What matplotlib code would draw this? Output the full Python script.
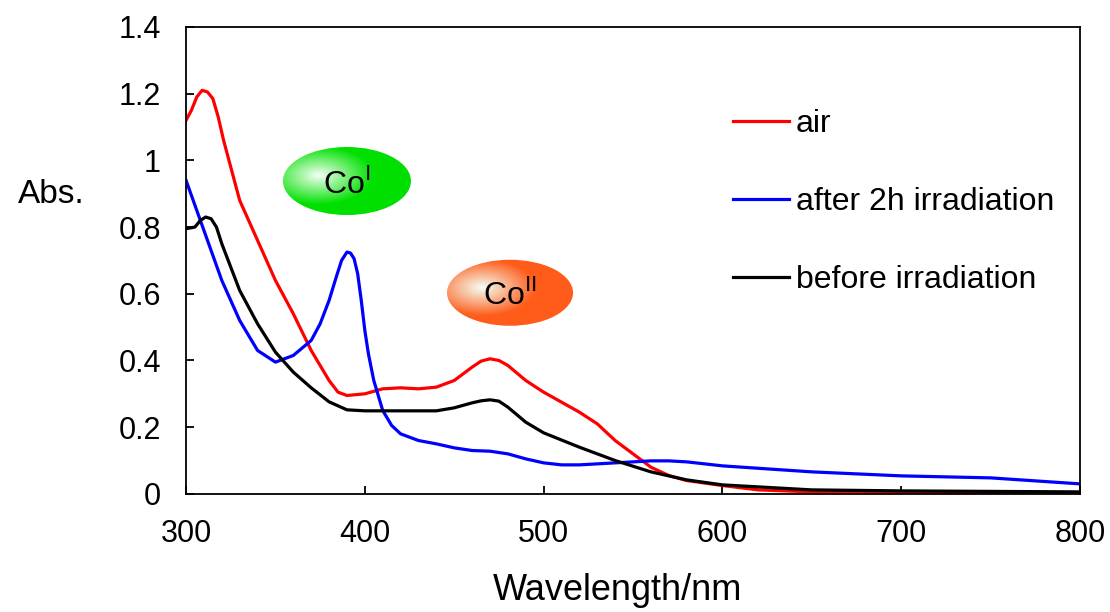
import matplotlib
matplotlib.use('Agg')
import matplotlib.pyplot as plt
import numpy as np
from matplotlib.patches import Ellipse
from matplotlib.colors import LinearSegmentedColormap

plt.rcParams['font.family'] = ['Liberation Sans', 'DejaVu Sans']
plt.rcParams['mathtext.fontset'] = 'custom'
plt.rcParams['mathtext.rm'] = 'Liberation Sans'

# air
wl_air = [300, 303, 306, 309, 312, 315, 318, 321, 325, 330, 340, 350, 360, 370, 380, 385,
          390, 400, 410, 420, 430, 440, 450, 460, 465, 470, 475, 480, 490, 500, 510, 520,
          530, 540, 550, 560, 570, 580, 600, 620, 650, 700, 750, 800]
abs_air = [1.12, 1.15, 1.19, 1.21, 1.205, 1.185, 1.13, 1.06, 0.98, 0.88, 0.76, 0.64, 0.54,
           0.43, 0.34, 0.305, 0.295, 0.30, 0.315, 0.318, 0.315, 0.32, 0.34, 0.38, 0.398,
           0.405, 0.40, 0.385, 0.34, 0.305, 0.275, 0.245, 0.21, 0.16, 0.12, 0.08, 0.055,
           0.04, 0.025, 0.012, 0.006, 0.004, 0.003, 0.0]

# after 2h irradiation
wl_irr = [300, 310, 320, 330, 340, 350, 360, 370, 375, 380, 384, 387, 390, 392, 394, 396,
          398, 400, 402, 405, 410, 415, 420, 430, 440, 450, 460, 470, 480, 490, 500, 510,
          520, 540, 560, 570, 580, 600, 650, 700, 750, 800]
abs_irr = [0.94, 0.79, 0.64, 0.52, 0.43, 0.395, 0.415, 0.46, 0.51, 0.58, 0.65, 0.70, 0.725,
           0.722, 0.705, 0.66, 0.58, 0.49, 0.42, 0.34, 0.25, 0.205, 0.18, 0.16, 0.15,
           0.138, 0.13, 0.128, 0.12, 0.105, 0.093, 0.087, 0.087, 0.093, 0.099, 0.099,
           0.096, 0.084, 0.066, 0.054, 0.048, 0.03]

# before irradiation
wl_bef = [300, 305, 308, 311, 314, 317, 320, 330, 340, 350, 360, 370, 380, 390, 400, 420,
          440, 450, 460, 465, 470, 475, 480, 490, 500, 520, 540, 560, 580, 600, 650, 700, 800]
abs_bef = [0.795, 0.80, 0.82, 0.83, 0.825, 0.80, 0.75, 0.61, 0.51, 0.425, 0.365, 0.318,
           0.276, 0.252, 0.249, 0.249, 0.249, 0.258, 0.273, 0.279, 0.282, 0.278, 0.26,
           0.215, 0.183, 0.14, 0.10, 0.066, 0.042, 0.027, 0.012, 0.009, 0.006]

fig = plt.figure(figsize=(11.1, 6.12), dpi=100)
ax = fig.add_axes([0.1676, 0.193, 0.8054, 0.763])

ax.plot(wl_air, abs_air, color='#ff0000', lw=2.3, label='air')
ax.plot(wl_irr, abs_irr, color='#0000ff', lw=2.3, label='after 2h irradiation')
ax.plot(wl_bef, abs_bef, color='#000000', lw=2.3, label='before irradiation')

ax.set_xlim(300, 800)
ax.set_ylim(0, 1.4)
ax.set_xticks(np.arange(300, 801, 100))
ax.set_yticks(np.arange(0, 1.41, 0.2))
ax.set_yticklabels(['0', '0.2', '0.4', '0.6', '0.8', '1', '1.2', '1.4'])
ax.tick_params(direction='in', length=6, width=1.3, labelsize=22)
ax.tick_params(axis='y', pad=18)
ax.tick_params(axis='x', pad=18)
for s in ax.spines.values():
    s.set_linewidth(1.3)

fig.text(618 / 1110, 1 - 600 / 612, 'Wavelength/nm', fontsize=26, ha='center', va='baseline')
fig.text(18 / 1110, 1 - 203 / 612, 'Abs.', fontsize=24, va='baseline', ha='left')

ax.legend(loc='upper left', bbox_to_anchor=(0.58, 0.885), frameon=False, fontsize=23,
          handlelength=1.75, handletextpad=0.2, labelspacing=1.5)


def blob(cx, cy, w, h, edge, name):
    cmap = LinearSegmentedColormap.from_list(name, ['#f4fff4', edge, edge])
    ext = [cx - w / 2, cx + w / 2, cy - h / 2, cy + h / 2]
    gx, gy = np.meshgrid(np.linspace(-1, 1, 200), np.linspace(1, -1, 200))
    r = np.sqrt((gx + 0.45) ** 2 + (gy - 0.15) ** 2)
    im = ax.imshow(r, extent=ext, cmap=cmap, vmin=0, vmax=1.7, aspect='auto',
                   interpolation='bilinear', zorder=3)
    el = Ellipse((cx, cy), w, h, transform=ax.transData, facecolor='none',
                 edgecolor='none')
    ax.add_patch(el)
    im.set_clip_path(el)


blob(390.0, 0.938, 71.6, 0.204, '#00e000', 'g')
blob(481.2, 0.603, 70.5, 0.198, '#ff5c1a', 'o')
ax.set_xlim(300, 800)
ax.set_ylim(0, 1.4)
ax.text(390.0, 0.93, r'Co$^{\mathrm{I}}$', fontsize=23, ha='center', va='center', zorder=4)
ax.text(481.2, 0.596, r'Co$^{\mathrm{II}}$', fontsize=23, ha='center', va='center', zorder=4)

fig.savefig('out.png', dpi=100)
